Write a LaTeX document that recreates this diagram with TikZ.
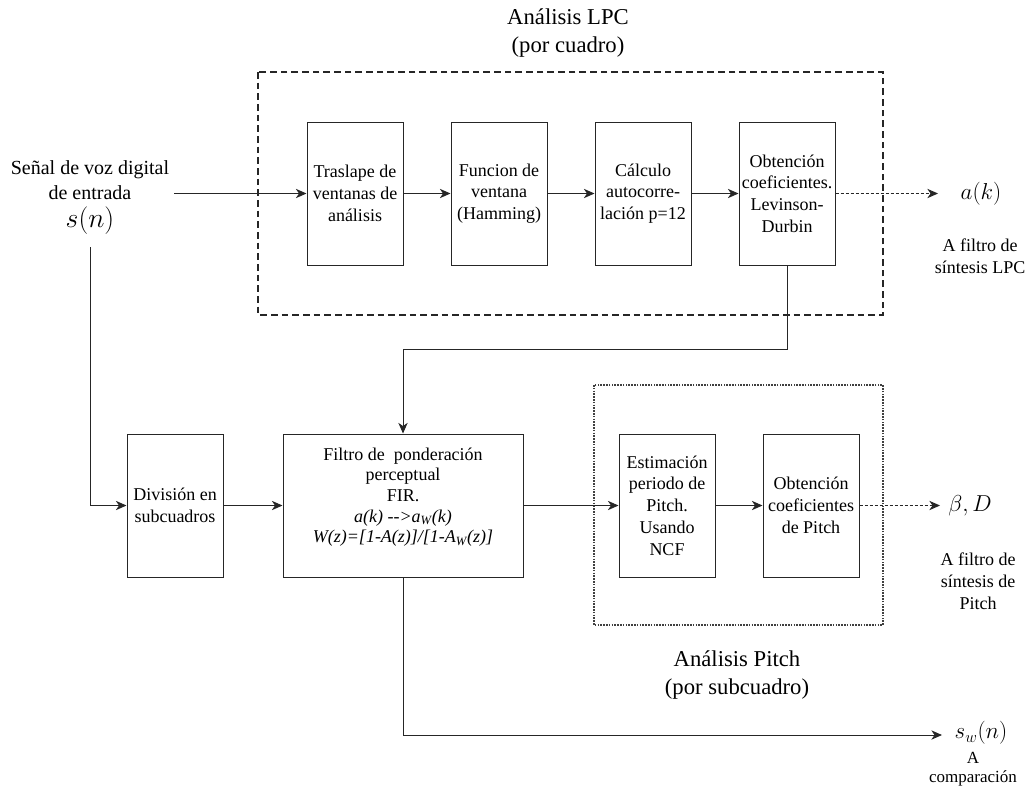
\documentclass[tikz,border=0pt]{standalone}
\usepackage{fontspec}
\setmainfont{Liberation Serif}
\usetikzlibrary{arrows.meta}
\begin{document}
\begin{tikzpicture}[x=0.75pt,y=-0.75pt,
  blk/.style={draw=black!85, line width=0.75pt, minimum width=72pt, minimum height=107.25pt,
    align=center, inner sep=1pt, font=\fontsize{13.5}{16.3}\selectfont},
  widebox/.style={blk, minimum width=180pt, font=\fontsize{13.5}{15.4}\selectfont},
  arr/.style={-{Stealth[length=8pt,width=7pt,inset=2.4pt]}, line width=0.75pt, draw=black!85},
  darr/.style={arr, dash pattern=on 2.25pt off 1.5pt},
  lpcgroup/.style={line width=1.5pt, dash pattern=on 5pt off 3pt, draw=black!85},
  pitchgroup/.style={line width=1.5pt, dash pattern=on 1.2pt off 0.9pt, draw=black!75},
  lbl/.style={align=center, inner sep=0pt, font=\fontsize{13.5}{16.5}\selectfont},
  mathlbl/.style={inner sep=0pt, font=\fontsize{18}{20}\selectfont},
  title/.style={align=center, inner sep=0pt, font=\fontsize{17}{21}\selectfont}
]
\useasboundingbox (0,0) rectangle (1027,790);

% group frames
\draw[lpcgroup] (258,72) rectangle (883,315);
\draw[pitchgroup] (594,385) rectangle (883,625);

% titles
\node[title] (tlpc) at (568,33) {Análisis LPC\\(por cuadro)};
\node[title] (tpitch) at (737,675) {Análisis Pitch\\(por subcuadro)};

% input
\node[lbl, font=\fontsize{15}{18.75}\selectfont] (inlbl) at (90,180.5) {Señal de voz digital\\de entrada};
\node[mathlbl, font=\fontsize{20}{22}\selectfont] (sn) at (90,221) {$s(n)$};
\coordinate (inA) at (174,193.5);
\coordinate (snb) at (90,247);

% top row
\node[blk] (b1) at (355,193.5) {Traslape de\\ventanas de\\análisis};
\node[blk] (b2) at (499,193.5) {Funcion de\\ventana\\(Hamming)};
\node[blk] (b3) at (643,193.5) {Cálculo\\autocorre-\\lación p=12};
\node[blk] (b4) at (787,193.5) {Obtención\\coeficientes.\\Levinson-\\Durbin};

% bottom row
\node[blk] (div) at (175,505.5) {División en\\subcuadros};
\node[widebox] (filt) at (403,505.5) {Filtro de\ \ ponderación\\perceptual\\FIR.\\
  \textit{a(k) -\kern0pt-\kern0pt>a\textsubscript{W}(k)}\\
  \textit{W(z)=[1-A(z)]/[1-A\textsubscript{W}(z)]}\\\mbox{}};
\node[blk] (est) at (667,505.5) {Estimación\\periodo de\\Pitch.\\Usando\\NCF};
\node[blk] (obp) at (811,505.5) {Obtención\\coeficientes\\de Pitch};

% outputs
\coordinate (akA) at (938,193.5);
\node[mathlbl] (ak) at (981,193.5) {$a(k)$};
\node[lbl] (aklbl) at (980,256) {A filtro de\\síntesis LPC};

\coordinate (bdA) at (940,505.5);
\node[mathlbl] (bd) at (970,505.5) {$\beta, D$};
\node[lbl] (bdlbl) at (978,581) {A filtro de\\síntesis de\\Pitch};

\coordinate (swA) at (942,735);
\node[mathlbl] (sw) at (981,733) {$s_w(n)$};
\node[lbl, font=\fontsize{12.75}{14.5}\selectfont] (swlbl) at (973,769) {A\\comparación};

\coordinate (k1) at (595,349);

% connectors
\draw[arr] (inA) -- (b1);
\draw[arr] (b1) -- (b2);
\draw[arr] (b2) -- (b3);
\draw[arr] (b3) -- (b4);
\draw[darr] (b4) -- (akA);
\draw[arr] (b4.south) |- (k1) -| (filt.north);
\draw[arr] (snb) |- (div.west);
\draw[arr] (div) -- (filt);
\draw[arr] (filt) -- (est);
\draw[arr] (est) -- (obp);
\draw[darr] (obp) -- (bdA);
\draw[arr] (filt.south) |- (swA);
\end{tikzpicture}
\end{document}
